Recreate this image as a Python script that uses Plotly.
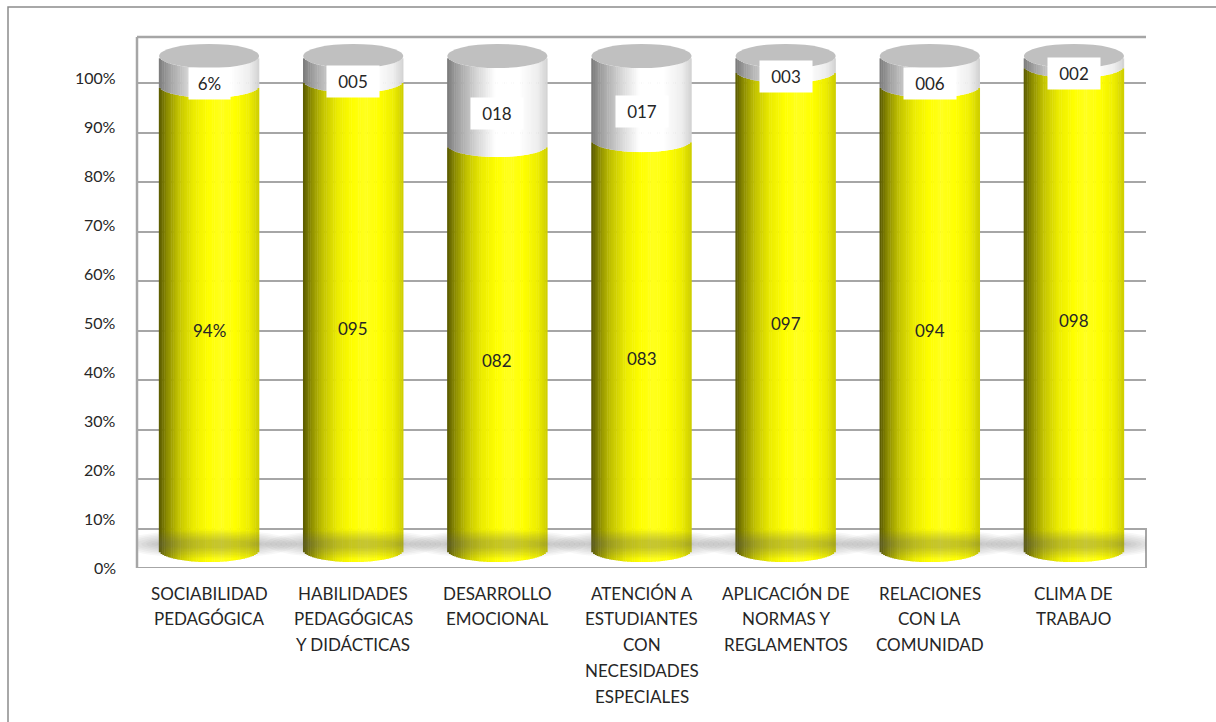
import numpy as np
import plotly.graph_objects as go

# ---- data -------------------------------------------------------------
categories = [
    "SOCIABILIDAD\nPEDAGÓGICA",
    "HABILIDADES\nPEDAGÓGICAS\nY DIDÁCTICAS",
    "DESARROLLO\nEMOCIONAL",
    "ATENCIÓN A\nESTUDIANTES\nCON\nNECESIDADES\nESPECIALES",
    "APLICACIÓN DE\nNORMAS Y\nREGLAMENTOS",
    "RELACIONES\nCON LA\nCOMUNIDAD",
    "CLIMA DE\nTRABAJO",
]
yes_values = [94, 95, 82, 83, 97, 94, 98]
no_values = [6, 5, 18, 17, 3, 6, 2]
label_styles = ["pct", "num", "num", "num", "num", "num", "num"]
y_tick_values = [0, 10, 20, 30, 40, 50, 60, 70, 80, 90, 100]
y_tick_labels = ["0%", "10%", "20%", "30%", "40%", "50%", "60%", "70%", "80%", "90%", "100%"]

# ---- styling ----------------------------------------------------------
FONT = "Lato"
TEXT = "#262626"
GRID = "#a6a6a6"
BAR_W = 0.694          # cylinder width in category units
N_STRIPS = 56          # vertical strips used for the round shading
RY = 2.45              # half-height of the cylinder ellipses (value units)
CAP = "#c0c0c0"
PX_PER_X = 1009 / 7
PX_PER_Y = 4.94

yellow_stops = [(0.0, (88, 88, 0)), (0.08, (140, 140, 0)), (0.2, (196, 196, 0)),
                (0.35, (236, 236, 0)), (0.5, (255, 255, 0)), (0.62, (255, 255, 30)),
                (0.76, (255, 255, 0)), (0.9, (238, 238, 0)), (1.0, (205, 205, 0))]
white_stops = [(0.0, (122, 122, 122)), (0.1, (160, 160, 160)), (0.3, (214, 214, 214)),
               (0.48, (255, 255, 255)), (0.72, (255, 255, 255)), (0.9, (238, 238, 238)),
               (1.0, (210, 210, 210))]


def shade(stops, t):
    for (t0, c0), (t1, c1) in zip(stops[:-1], stops[1:]):
        if t <= t1:
            f = (t - t0) / (t1 - t0) if t1 > t0 else 0
            c = [round(a + (b - a) * f) for a, b in zip(c0, c1)]
            return "rgb({},{},{})".format(*c)
    return "rgb({},{},{})".format(*stops[-1][1])


def fmt(v, style):
    return f"{v}%" if style == "pct" else f"{v:03d}"


fig = go.Figure()

# soft shadows on the floor, one stack of translucent ellipses per cylinder
theta = np.linspace(0, 2 * np.pi, 61)
for i in range(len(categories)):
    for k in range(8):
        hx = BAR_W / 2 + (3 + k * 5) / PX_PER_X
        hy = (4 + k * 1.5) / PX_PER_Y
        fig.add_trace(go.Scatter(x=i + hx * np.cos(theta), y=1.2 + hy * np.sin(theta),
                                 yaxis="y2", mode="lines", fill="toself",
                                 fillcolor="rgba(90,90,90,0.05)", line=dict(width=0),
                                 hoverinfo="skip", showlegend=False))

# strip geometry across one cylinder
edges = np.linspace(-1, 1, N_STRIPS + 1)
uc = (edges[:-1] + edges[1:]) / 2
front = RY * np.sqrt(1 - uc ** 2)
strip_w = BAR_W / N_STRIPS * 1.25

yx, yb, yh, yc = [], [], [], []
wx, wb, wh, wc = [], [], [], []
for i, (yv, nv) in enumerate(zip(yes_values, no_values)):
    for u, f in zip(uc, front):
        t = (u + 1) / 2
        x = i + u * BAR_W / 2
        yx.append(x); yb.append(-f); yh.append(yv); yc.append(shade(yellow_stops, t))
        wx.append(x); wb.append(yv - f); wh.append(nv); wc.append(shade(white_stops, t))

fig.add_trace(go.Bar(x=yx, y=yh, base=yb, width=strip_w, yaxis="y2",
                     marker=dict(color=yc, line=dict(width=0)),
                     hoverinfo="skip", showlegend=False))
fig.add_trace(go.Bar(x=wx, y=wh, base=wb, width=strip_w, yaxis="y2",
                     marker=dict(color=wc, line=dict(width=0)),
                     hoverinfo="skip", showlegend=False))

shapes = []
# floor box
shapes.append(dict(type="rect", xref="paper", yref="y", x0=0, x1=1, y0=2.13, y1=10,
                   fillcolor="white", line=dict(color=GRID, width=2), layer="below"))
# cylinder caps
for i, (yv, nv) in enumerate(zip(yes_values, no_values)):
    top = yv + nv
    shapes.append(dict(type="circle", xref="x", yref="y2",
                       x0=i - BAR_W / 2, x1=i + BAR_W / 2, y0=top - RY, y1=top + RY,
                       fillcolor=CAP, line=dict(width=0), layer="above"))
# back wall frame
shapes.append(dict(type="line", xref="paper", yref="paper", x0=0, x1=1, y0=1, y1=1,
                   line=dict(color=GRID, width=2.5)))
shapes.append(dict(type="line", xref="paper", yref="paper", x0=0, x1=0, y0=0, y1=1,
                   line=dict(color=GRID, width=2.5)))
# chart border
shapes.append(dict(type="rect", xref="paper", yref="paper",
                   x0=(8 - 137) / 1009, x1=(1222 - 137) / 1009,
                   y0=(568 - 730) / 531, y1=(568 - 7) / 531,
                   fillcolor="rgba(0,0,0,0)", line=dict(color="#8c8c8c", width=1.5)))

annotations = []
# value axis labels, placed on the percentage axis
for v, lab in zip(y_tick_values, y_tick_labels):
    annotations.append(dict(x=0, y=v, xref="paper", yref="y3", xanchor="right",
                            yanchor="middle", xshift=-19, text=lab, showarrow=False,
                            font=dict(family=FONT, size=16, color=TEXT)))
# segment value labels
for i, (yv, nv, st) in enumerate(zip(yes_values, no_values, label_styles)):
    annotations.append(dict(x=i, y=yv / 2, xref="x", yref="y2", yshift=-13,
                            text=fmt(yv, st), showarrow=False,
                            font=dict(family=FONT, size=17, color=TEXT)))
    t = fmt(nv, st)
    annotations.append(dict(x=i, y=yv + nv / 2, xref="x", yref="y2", yshift=-13,
                            text=t, showarrow=False, bgcolor="white",
                            width=11 * len(t) + 9, borderpad=5,
                            font=dict(family=FONT, size=17, color=TEXT)))
# category labels, one line each
for i, cat in enumerate(categories):
    for k, line in enumerate(cat.split("\n")):
        annotations.append(dict(x=i, y=0, xref="x", yref="paper", yanchor="middle",
                                yshift=-25 - 25.8 * k, text=line, showarrow=False,
                                font=dict(family=FONT, size=17, color=TEXT)))

fig.update_layout(
    width=1216, height=722,
    margin=dict(l=137, r=70, t=37, b=154),
    paper_bgcolor="white", plot_bgcolor="white",
    barmode="overlay",
    xaxis=dict(range=[-0.5, 6.5], showticklabels=False, showgrid=False,
               zeroline=False, ticks=""),
    # back-wall gridlines
    yaxis=dict(range=[2.13, 109.28], showticklabels=False, tick0=0, dtick=10,
               showgrid=True, gridcolor=GRID, gridwidth=2, zeroline=False, ticks=""),
    # cylinders
    yaxis2=dict(range=[-3.64, 103.85], overlaying="y", visible=False),
    # percentage scale used by the value-axis labels
    yaxis3=dict(range=[-0.2, 108.2], overlaying="y", visible=False),
    shapes=shapes,
    annotations=annotations,
    font=dict(family=FONT),
)

fig.write_html("out.html")
